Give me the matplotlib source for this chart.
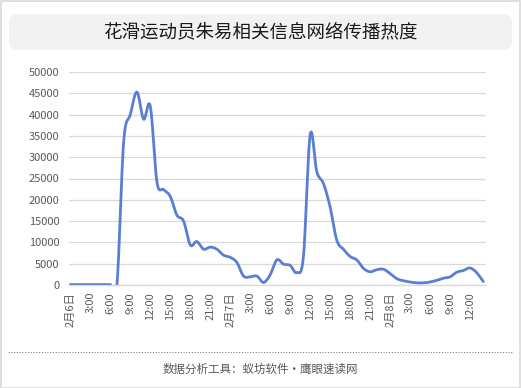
import numpy as np
import matplotlib
matplotlib.use('Agg')
import matplotlib.pyplot as plt
from matplotlib.patches import FancyBboxPatch, Rectangle
from matplotlib.lines import Line2D

plt.rcParams['font.family'] = ['Noto Sans CJK SC', 'DejaVu Sans']

title = "花滑运动员朱易相关信息网络传播热度"
footer = "数据分析工具：蚁坊软件·鹰眼速读网"

# hourly heat, 2月6日 0:00 -> 2月8日 14:00
hours = list(range(63))
heat = [100, 100, 100, 100, 100, 100, 100, 200,
        33500, 40000, 45300, 38900, 42000, 24200, 22400, 20800, 16400, 15000,
        9400, 10200, 8400, 8900, 8400, 7000, 6500, 5300, 2100, 1900, 2100,
        600, 2400, 5900, 4900, 4600, 2900, 6800, 35300, 26600, 23800, 18300,
        10500, 8400, 6700, 5900, 3900, 3100, 3600, 3700, 2700, 1500, 1000,
        700, 500, 500, 700, 1100, 1600, 1900, 3000, 3400, 4000, 2900, 800]

tick_pos = list(range(0, 63, 3))
tick_labels = ["2月6日", "3:00", "6:00", "9:00", "12:00", "15:00", "18:00", "21:00",
               "2月7日", "3:00", "6:00", "9:00", "12:00", "15:00", "18:00", "21:00",
               "2月8日", "3:00", "6:00", "9:00", "12:00"]
y_ticks = list(range(0, 50001, 5000))


def smooth(x, y, n=12):
    # catmull-rom style smoothing, like excel's smoothed line
    x = np.asarray(x, float)
    y = np.asarray(y, float)
    px = np.concatenate([[x[0]], x, [x[-1]]])
    py = np.concatenate([[y[0]], y, [y[-1]]])
    xs, ys = [], []
    t = np.linspace(0, 1, n, endpoint=False)
    for i in range(1, len(px) - 2):
        p0, p1, p2, p3 = py[i - 1], py[i], py[i + 1], py[i + 2]
        q0, q1, q2, q3 = px[i - 1], px[i], px[i + 1], px[i + 2]
        for arr, a, b, c, d in ((xs, q0, q1, q2, q3), (ys, p0, p1, p2, p3)):
            arr.extend(0.5 * ((2 * b) + (-a + c) * t + (2 * a - 5 * b + 4 * c - d) * t ** 2
                              + (-a + 3 * b - 3 * c + d) * t ** 3))
    xs.append(x[-1])
    ys.append(y[-1])
    return np.array(xs), np.array(ys)


fig = plt.figure(figsize=(5.21, 3.88), dpi=100)

# outer frame
fig.patches.append(Rectangle((0.001, 0.001), 0.998, 0.997, transform=fig.transFigure,
                             fill=False, edgecolor='#d9d9d9', linewidth=1.2))
# title box
fig.patches.append(FancyBboxPatch((9 / 521, 1 - 50 / 388), 503 / 521, 36 / 388,
                                  boxstyle="round,pad=0,rounding_size=0.018",
                                  transform=fig.transFigure, facecolor='#f2f2f2',
                                  edgecolor='none', mutation_aspect=521 / 388))
fig.text(0.5, 1 - 32 / 388, title, ha='center', va='center', fontsize=13.3, color='#1a1a1a')

ax = fig.add_axes([69 / 521, 1 - 285 / 388, 417 / 521, 213 / 388])
sx, sy = smooth(hours, heat)
ax.plot(sx, sy, color='#5a7fd2', linewidth=2.0, solid_capstyle='round')

ax.set_xlim(-0.2, 62.4)
ax.set_ylim(0, 50000)
ax.set_yticks(y_ticks)
ax.set_yticklabels([str(v) for v in y_ticks])
ax.set_xticks(tick_pos)
ax.set_xticklabels(tick_labels, rotation=90)
ax.grid(axis='y', color='#d9d9d9', linewidth=0.9)
ax.set_axisbelow(True)
for s in ['top', 'right', 'left']:
    ax.spines[s].set_visible(False)
ax.spines['bottom'].set_color('#d9d9d9')
ax.spines['bottom'].set_linewidth(0.9)
ax.tick_params(axis='both', length=0, labelsize=8, colors='#595959')
ax.tick_params(axis='y', pad=7)
ax.tick_params(axis='x', pad=5)

# footer
fig.lines.append(Line2D([8 / 521, 513 / 521], [1 - 352 / 388] * 2, transform=fig.transFigure,
                        color='#808080', linestyle=(0, (1, 1.5)), linewidth=0.8))
fig.text(0.5, 1 - 369 / 388, footer, ha='center', va='center', fontsize=8.3, color='#595959')

fig.savefig('out.png', dpi=100)
